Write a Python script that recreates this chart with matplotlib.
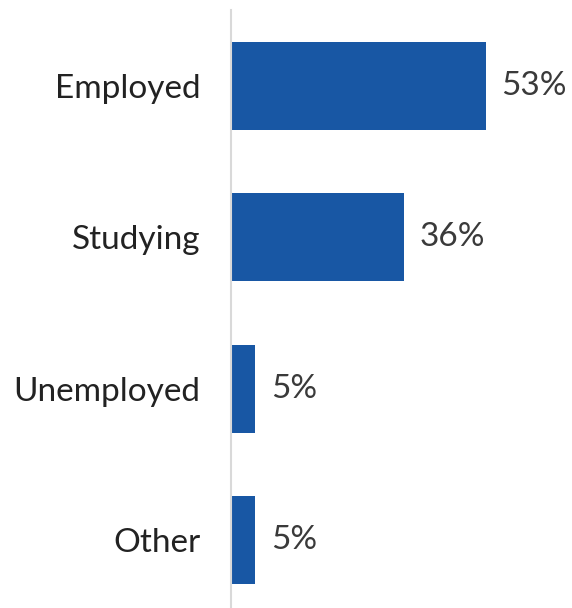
import matplotlib.pyplot as plt

categories = ['Employed', 'Studying', 'Unemployed', 'Other']
shares = [53, 36, 5, 5]

plt.rcParams['font.family'] = ['Lato', 'DejaVu Sans']

fig = plt.figure(figsize=(5.72, 6.08), dpi=100)
ax = fig.add_axes([231 / 572, 0, 1 - 231 / 572, 598 / 608])

ypos = range(len(categories))
bars = ax.barh(ypos, shares, height=0.58, color='#1857a4')

for bar, v in zip(bars, shares):
    ax.annotate(f'{v}%', (bar.get_width(), bar.get_y() + bar.get_height() / 2),
                xytext=(11.5, 0), textcoords='offset points',
                va='center', ha='left', fontsize=24, color='#3a3a3a')

ax.set_xlim(0, 71)
ax.set_ylim(3.449, -0.502)
ax.set_yticks(list(ypos))
ax.set_yticklabels(categories, fontsize=24, color='#222222')
ax.tick_params(axis='y', length=0, pad=22)
ax.set_xticks([])
for side in ['top', 'right', 'bottom']:
    ax.spines[side].set_visible(False)
ax.spines['left'].set_color('#d9d9d9')
ax.spines['left'].set_linewidth(1.5)

fig.savefig('out.png', dpi=100)
